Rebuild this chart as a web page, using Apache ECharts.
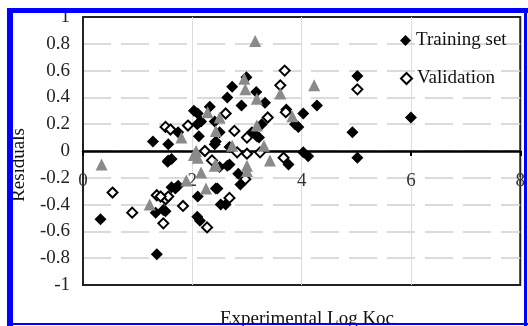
<!DOCTYPE html>
<html>
<head>
<meta charset="utf-8">
<script src="https://cdn.jsdelivr.net/npm/echarts@6/dist/echarts.min.js"></script>
<style>
html,body{margin:0;padding:0;background:#fff;}
#c{width:528px;height:326px;}
</style>
</head>
<body>
<div id="c"></div>
<script>
// Tick labels / ranges
var xTicks = [0, 2, 4, 6, 8];
var yTicks = [-1, -0.8, -0.6, -0.4, -0.2, 0, 0.2, 0.4, 0.6, 0.8, 1];

// Training set (filled diamonds)
var trainX = [0.32,1.35,1.33,1.51,1.47,1.55,1.62,1.69,1.28,1.56,1.56,1.74,1.62,2.03,2.10,2.09,2.16,2.32,2.41,2.41,2.43,2.50,2.68,2.64,2.73,2.90,2.99,3.17,3.33,3.27,3.09,3.18,3.22,2.68,2.84,2.88,2.46,2.43,2.52,2.61,2.10,2.09,2.14,2.50,2.64,3.72,3.88,3.94,4.03,4.28,4.03,4.12,3.76,5.02,4.93,5.02,6.00,1.74,2.12];
var trainY = [-0.51,-0.77,-0.46,-0.45,-0.44,-0.08,-0.27,-0.28,0.07,0.05,-0.07,0.14,-0.06,0.30,0.28,0.20,0.22,0.33,0.22,0.05,0.07,0.14,0.03,0.40,0.48,0.34,0.55,0.44,0.36,0.20,0.14,0.11,0.10,-0.10,-0.17,-0.25,-0.28,-0.28,-0.40,-0.40,-0.34,-0.49,-0.52,-0.12,-0.11,0.31,0.20,0.18,0.28,0.34,-0.01,-0.04,-0.10,0.56,0.14,-0.05,0.25,-0.26,0.11];

// Validation (hollow diamonds)
var valX = [0.54,0.90,1.35,1.51,1.47,1.51,1.60,1.92,1.83,1.56,2.27,2.23,2.36,2.61,2.68,2.77,2.97,3.00,2.82,3.00,3.24,3.38,3.61,3.69,3.71,3.67,5.02,1.42];
var valY = [-0.31,-0.46,-0.33,-0.36,-0.54,0.18,0.16,0.19,-0.41,-0.34,-0.57,0.00,-0.07,0.28,-0.35,0.15,-0.21,0.10,-0.01,-0.02,-0.01,0.25,0.49,0.60,0.29,-0.05,0.46,-0.34];

// Third set (grey triangles, not in legend)
var testX = [0.34,1.22,1.80,1.89,2.07,2.10,2.03,2.16,2.25,2.41,2.43,2.28,2.50,2.73,2.95,2.97,3.15,3.18,3.18,3.31,3.42,3.00,3.00,2.43,3.61,3.83,4.23];
var testY = [-0.10,-0.40,0.10,-0.22,0.00,-0.05,-0.03,-0.16,-0.28,-0.11,0.15,0.29,0.25,0.04,0.54,0.46,0.82,0.39,0.19,0.04,-0.07,-0.11,-0.15,-0.10,0.43,0.26,0.49];

function pairs(xs, ys){ return xs.map(function(v,i){ return [v, ys[i]]; }); }

var serif = '"Liberation Serif","DejaVu Serif",serif';
var chart = echarts.init(document.getElementById('c'), null, {renderer:'canvas'});
chart.setOption({
  animation:false,
  backgroundColor:'#fff',
  grid:{left:83, top:17, width:447, height:268, show:true, borderColor:'#222', borderWidth:2, backgroundColor:'transparent'},
  xAxis:{
    type:'value', min:xTicks[0], max:xTicks[xTicks.length-1], interval:2,
    offset:-134,
    axisLine:{show:true, onZero:false, lineStyle:{color:'#000', width:2.5}},
    axisTick:{show:true, length:5, lineStyle:{color:'#000', width:2}},
    axisLabel:{color:'#333', fontFamily:serif, fontSize:19, margin:21, showMaxLabel:true},
    splitLine:{show:true, showMinLine:false, showMaxLine:false, lineStyle:{color:'#dcdcdc', width:1}}
  },
  yAxis:{
    type:'value', min:yTicks[0], max:yTicks[yTicks.length-1], interval:0.2,
    axisLine:{show:true, onZero:false, lineStyle:{color:'#222', width:2}},
    axisTick:{show:false},
    axisLabel:{color:'#222', fontFamily:serif, fontSize:19, margin:13},
    splitLine:{show:true, showMinLine:false, showMaxLine:false, lineStyle:{color:'#cfcfcf', width:1.5, type:[28,10]}}
  },
  legend:[
    {data:['Training set'], left:395, top:26, itemWidth:11, itemHeight:11, textStyle:{fontFamily:serif, fontSize:19, color:'#111'}},
    {data:['Validation'], left:395, top:64, itemWidth:11, itemHeight:11, textStyle:{fontFamily:serif, fontSize:19, color:'#111'}}
  ],
  series:[
    {name:'Training set', type:'scatter', symbol:'diamond', symbolSize:12, data:pairs(trainX, trainY), itemStyle:{color:'#000', opacity:1}, z:3},
    {name:'Validation', type:'scatter', symbol:'diamond', symbolSize:10, data:pairs(valX, valY), itemStyle:{color:'#fff', borderColor:'#000', borderWidth:2, opacity:1}, z:4},
    {name:'Test', type:'scatter', symbol:'triangle', symbolSize:12, data:pairs(testX, testY), itemStyle:{color:'#8a8a8a', opacity:1}, z:5}
  ],
  graphic:[
    {type:'text', x:19, y:165, rotation:Math.PI/2, z:10,
     style:{text:'Residuals', font:'19px '+serif, fill:'#111', align:'center', verticalAlign:'middle'}},
    {type:'text', x:307, y:319, z:10,
     style:{text:'Experimental Log Koc', font:'19px '+serif, fill:'#111', align:'center', verticalAlign:'middle'}},
    {type:'rect', z:100, shape:{x:7, y:8, width:6, height:318}, style:{fill:'#0000ff'}},
    {type:'rect', z:100, shape:{x:7, y:8, width:521, height:5}, style:{fill:'#0000ff'}},
    {type:'rect', z:100, shape:{x:524, y:8, width:3, height:318}, style:{fill:'#0000ff'}},
    {type:'rect', z:100, shape:{x:7, y:323, width:521, height:2}, style:{fill:'#0000ff'}}
  ]
});
</script>
</body>
</html>
